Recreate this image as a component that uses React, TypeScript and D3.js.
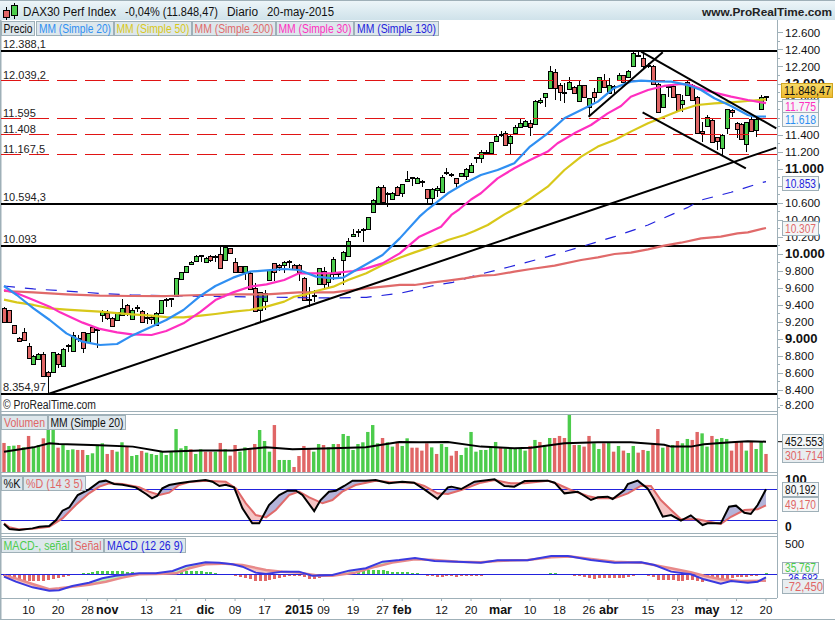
import React from 'react';
import * as d3 from 'd3';

const W = 835;
const H = 620;
const FONT = '"Liberation Sans", Arial, sans-serif';

// daily candles
const highs = [
  9382, 9339, 9163, 9029, 9135, 8951, 8813, 8833, 8853, 8625, 8845, 8833, 8892, 8939, 9088, 9045, 9080, 9068, 9139, 9127,
  9343, 9343, 9264, 9323, 9468, 9410, 9362, 9402, 9343, 9304, 9284, 9315, 9456, 9480, 9488, 9723, 9793, 9864, 9919, 9989,
  9989, 9970, 9989, 9989, 10087, 10087, 10075, 9950, 9864, 9864, 9785, 9664, 9550, 9578, 9821, 9899, 9880, 9919, 9931, 9880,
  9880, 9735, 9617, 9578, 9840, 9852, 9782, 9970, 9794, 10036, 10185, 10295, 10295, 10303, 10440, 10644, 10801, 10813, 10734, 10731,
  10801, 10829, 10978, 10911, 10907, 10872, 10770, 10781, 10800, 10930, 11009, 10958, 10899, 10958, 11009, 11075, 11146, 11224, 11224, 11322,
  11401, 11448, 11452, 11397, 11518, 11597, 11577, 11577, 11808, 11832, 11898, 12212, 12173, 12008, 12008, 12079, 11977, 12047, 11993, 11840,
  11949, 12087, 12118, 12067, 11989, 12134, 12110, 12165, 12377, 12380, 12361, 12243, 12224, 12008, 11887, 11989, 11985, 11887, 11871, 12047,
  11996, 11859, 11558, 11636, 11585, 11381, 11409, 11710, 11703, 11554, 11538, 11557, 11616, 11597, 11871, 11863,
];
const lows = [
  9194, 9186, 9076, 8970, 8982, 8782, 8692, 8755, 8563, 8355, 8617, 8657, 8680, 8853, 8853, 8970, 8833, 8962, 9068, 8892,
  9206, 9225, 9147, 9213, 9276, 9272, 9225, 9323, 9198, 9174, 9174, 9158, 9304, 9382, 9382, 9499, 9699, 9777, 9880, 9911,
  9911, 9903, 9903, 9911, 9832, 9919, 9997, 9781, 9781, 9695, 9582, 9327, 9206, 9343, 9691, 9684, 9801, 9774, 9833, 9813,
  9684, 9452, 9382, 9441, 9636, 9597, 9605, 9695, 9735, 9636, 9970, 10205, 10205, 10146, 10283, 10490, 10597, 10605, 10550, 10644,
  10684, 10668, 10852, 10801, 10825, 10793, 10597, 10597, 10676, 10723, 10930, 10911, 10762, 10911, 10872, 10958, 11075, 11068, 11185, 11185,
  11322, 11373, 11271, 11177, 11412, 11491, 11491, 11389, 11518, 11765, 11734, 11942, 11812, 11800, 11773, 11930, 11883, 11797, 11844, 11616,
  11793, 11902, 11953, 11883, 11891, 12040, 12020, 12079, 12204, 12314, 12192, 12184, 11989, 11663, 11714, 11851, 11844, 11687, 11675, 11863,
  11804, 11412, 11322, 11499, 11315, 11224, 11166, 11409, 11616, 11361, 11342, 11205, 11444, 11373, 11695, 11800,
];
const opens = [
  9362, 9339, 9163, 9017, 9084, 8915, 8704, 8763, 8829, 8617, 8617, 8821, 8688, 8923, 8864, 9004, 9080, 8970, 9139, 9103,
  9284, 9304, 9245, 9225, 9284, 9402, 9233, 9362, 9331, 9260, 9264, 9166, 9311, 9456, 9468, 9507, 9707, 9785, 9887, 9919,
  9974, 9911, 9974, 9962, 9997, 9927, 10068, 9903, 9856, 9785, 9778, 9597, 9343, 9448, 9699, 9891, 9868, 9872, 9911, 9872,
  9872, 9723, 9476, 9503, 9644, 9801, 9676, 9762, 9766, 9927, 9981, 10217, 10275, 10279, 10291, 10499, 10605, 10785, 10723, 10652,
  10793, 10715, 10860, 10891, 10832, 10860, 10762, 10656, 10758, 10735, 10950, 10946, 10891, 10923, 10923, 10970, 11130, 11126, 11189, 11193,
  11330, 11401, 11420, 11311, 11420, 11499, 11507, 11546, 11526, 11793, 11844, 11949, 12145, 11992, 11906, 11938, 11969, 11804, 11985, 11734,
  11910, 11910, 12047, 11891, 11981, 12047, 12102, 12087, 12212, 12325, 12302, 12224, 12216, 12000, 11726, 11977, 11977, 11879, 11765, 11871,
  11989, 11851, 11444, 11506, 11577, 11373, 11252, 11479, 11691, 11546, 11530, 11295, 11585, 11460, 11702, 11856,
];
const closes = [
  9198, 9198, 9076, 8978, 8994, 8782, 8806, 8821, 8571, 8571, 8845, 8712, 8880, 8931, 9049, 9017, 8900, 9068, 9080, 9115,
  9323, 9245, 9158, 9315, 9370, 9304, 9343, 9378, 9206, 9245, 9237, 9304, 9456, 9472, 9480, 9723, 9785, 9856, 9911, 9977,
  9985, 9958, 9931, 9977, 9840, 10083, 10009, 9785, 9793, 9856, 9590, 9331, 9550, 9539, 9813, 9785, 9852, 9911, 9923, 9821,
  9793, 9460, 9460, 9519, 9832, 9644, 9774, 9938, 9778, 10028, 10158, 10232, 10263, 10291, 10432, 10640, 10793, 10617, 10707, 10723,
  10691, 10821, 10880, 10903, 10899, 10848, 10656, 10770, 10774, 10911, 10966, 10926, 10840, 10950, 10997, 11048, 11142, 11197, 11205, 11314,
  11393, 11416, 11279, 11389, 11491, 11538, 11569, 11491, 11800, 11808, 11891, 12157, 11957, 11910, 11891, 12028, 11891, 11989, 11851, 11832,
  11851, 12079, 11961, 11989, 11965, 12110, 12028, 12157, 12361, 12345, 12216, 12212, 11996, 11675, 11879, 11961, 11851, 11695, 11812, 12020,
  11812, 11420, 11428, 11608, 11322, 11334, 11401, 11702, 11675, 11467, 11350, 11549, 11452, 11585, 11851, 11848.47,
];

// moving averages, read at the bar positions given by the *Idx arrays
const sma20Idx = [0, 2.6, 6, 9.3, 12.7, 16, 19.5, 23, 26, 30, 33, 36.5, 40, 43, 46.6, 50, 53.4, 57, 60, 63.5, 67, 69, 71, 73.7, 77, 80.5, 84.5, 86.2, 88.2, 90.3, 93.7, 97, 100.4, 103.8, 107, 110.6, 114, 117.4, 120.8, 124, 127.5, 129.6, 132.3, 135.7, 139, 141.8, 144.5, 147.9, 151.3, 152.6, 155];
const sma20 = [9625, 9519, 9362, 9225, 9068, 8970, 8931, 8943, 9041, 9147, 9225, 9343, 9511, 9625, 9723, 9793, 9809, 9825, 9813, 9735, 9715, 9723, 9793, 9880, 9989, 10185, 10440, 10527, 10617, 10715, 10832, 10930, 10989, 11068, 11264, 11420, 11597, 11695, 11793, 11949, 12028, 12040, 12032, 12028, 11989, 11930, 11832, 11742, 11636, 11616, 11618];
const sma30Idx = [0, 2.6, 6, 9.3, 11.4, 16, 19.5, 23, 26, 30, 33, 36.5, 40, 43, 46.6, 50, 53.4, 57, 60, 63.5, 67, 71, 73.7, 77, 80.5, 84.5, 88.9, 91, 92.6, 95, 97, 100.4, 103.8, 107, 110.6, 112.6, 116, 119.4, 122.8, 125.5, 127.5, 131, 134.3, 137.7, 139.7, 142.4, 144.5, 147.9, 151.3, 155];
const sma30 = [9578, 9539, 9460, 9382, 9315, 9194, 9120, 9080, 9056, 9049, 9096, 9186, 9323, 9460, 9550, 9617, 9644, 9695, 9774, 9774, 9777, 9801, 9832, 9891, 10009, 10205, 10322, 10460, 10527, 10642, 10715, 10891, 11009, 11107, 11205, 11303, 11420, 11518, 11655, 11742, 11851, 11930, 11977, 12000, 11989, 11930, 11899, 11851, 11812, 11775];
const sma50Idx = [0, 2.6, 6, 9.3, 12.7, 16, 19.5, 23, 26, 30, 33, 36.5, 40, 43, 46.6, 50, 53.4, 57, 59, 61.5, 63.5, 67, 70, 73.7, 77, 80.5, 83.5, 86.9, 90.3, 93.7, 95.7, 98.4, 101.8, 105.2, 107.2, 110.6, 114, 117.4, 120.8, 124.2, 127.5, 131, 134.3, 137.7, 141, 144.5, 147.9, 151.3, 155];
const sma50 = [9464, 9433, 9402, 9362, 9347, 9335, 9323, 9307, 9292, 9276, 9260, 9256, 9276, 9296, 9323, 9343, 9382, 9441, 9499, 9527, 9566, 9617, 9695, 9774, 9872, 9958, 10020, 10087, 10166, 10224, 10271, 10342, 10467, 10577, 10656, 10793, 10989, 11146, 11264, 11342, 11440, 11538, 11616, 11695, 11753, 11773, 11785, 11800, 11820];
const sma200Idx = [0, 6, 12.7, 19.5, 26, 33, 40, 46.6, 53.4, 60, 67, 73.7, 80.5, 83.5, 86.9, 90.3, 93.7, 97, 99.8, 103.8, 107.2, 112, 117.4, 120.8, 124.2, 127.5, 131, 134.3, 137.7, 141.8, 145.8, 149.2, 151.3, 155];
const sma200 = [9566, 9550, 9527, 9511, 9507, 9507, 9519, 9527, 9527, 9550, 9550, 9597, 9637, 9637, 9664, 9688, 9715, 9746, 9754, 9793, 9825, 9864, 9931, 9962, 10001, 10017, 10056, 10099, 10134, 10185, 10205, 10244, 10256, 10307];
const sma130Idx = [0, 6, 12.7, 19.5, 26, 33, 40, 46.6, 53.4, 60, 67, 73.7, 80.5, 83.5, 86.9, 91.3, 97, 102.5, 110.6, 116.7, 124.2, 131, 139, 141.8, 147.9, 153.6, 155];
const sma130 = [9625, 9590, 9566, 9538, 9519, 9511, 9503, 9499, 9495, 9488, 9484, 9492, 9539, 9578, 9625, 9668, 9766, 9845, 9970, 10075, 10205, 10342, 10546, 10636, 10727, 10832, 10853];

// horizontal levels
const solidLevels = [12388.1, 10594.3, 10093, 8354.97];
const solidLabels = ['12.388,1', '10.594,3', '10.093', '8.354,97'];
const dashedLevels = [12039.2, 11595, 11408, 11167.5];
const dashedLabels = ['12.039,2', '11.595', '11.408', '11.167,5'];

// hand drawn trend lines: [bar, price, bar, price]
const trendLines = [
  [9, 8355, 157.1, 11252],
  [129.6, 12380, 157.1, 11479],
  [129.9, 11667, 150.9, 11009],
  [118.9, 11616, 134, 12373],
];

const priceTicks = [12600, 12400, 12200, 12000, 11800, 11400, 11200, 11000, 10800, 10600, 10400, 10200, 10000, 9800, 9600, 9400, 9200, 9000, 8800, 8600, 8400, 8200];

// volume, in thousands
const volumes = [
  437, 400, 404, 412, 383, 523, 383, 412, 494, 608, 608, 379, 412, 351, 359, 351, 351, 289, 310, 404,
  433, 302, 351, 330, 445, 400, 277, 289, 339, 318, 302, 289, 330, 289, 330, 608, 371, 400, 359, 302,
  359, 330, 330, 330, 437, 359, 281, 412, 330, 383, 371, 424, 596, 461, 330, 657, 228, 228, 228, 142,
  277, 400, 371, 330, 424, 412, 383, 424, 424, 547, 523, 351, 424, 445, 572, 657, 433, 498, 445, 392,
  453, 400, 494, 379, 379, 343, 433, 383, 302, 424, 388, 281, 339, 289, 379, 572, 330, 351, 351, 392,
  449, 383, 371, 371, 371, 371, 343, 400, 474, 449, 412, 498, 498, 523, 498, 780, 412, 412, 392, 523,
  433, 363, 433, 449, 330, 400, 343, 314, 400, 318, 351, 339, 433, 608, 379, 400, 412, 461, 433, 486,
  474, 572, 555, 392, 523, 486, 498, 486, 343, 449, 461, 343, 461, 363, 449, 302,
];
const volumeDir = 'RGGRGRGGRG' + 'GRGGGRRGGG' + 'GRRGGRGGRG' + 'GGGGGGGGRG' + 'GRRGRGRRGG' + 'RRGGGRGGGR' + 'RRRGGRGGRG' + 'GGGGGGGRGG' + 'RGGR' +
  'RRRGRGGRRG' + 'GGGGGGGRGG' + 'GGGRGRGGRR' + 'RGRGRRGGRG' + 'RGRGGRRGRR' + 'GRGRGGRRGG' + 'RGGGRRRGRG' + 'GR';
const volMaIdx = [0, 6, 9.2, 11.2, 19.4, 26.2, 32.3, 40, 46.5, 53.3, 58.7, 66.8, 73.6, 80.4, 84.5, 90.3, 97, 103.8, 107.2, 114, 120.8, 127.5, 134.3, 135.7, 139.7, 142.4, 147.9, 151.3, 155];
const volMa = [330, 383, 433, 424, 408, 392, 330, 343, 343, 383, 359, 371, 383, 449, 445, 449, 392, 371, 379, 433, 445, 445, 416, 392, 392, 420, 445, 457, 452.553];

// stochastic
const stochKIdx = [0, 1.1, 3.1, 5.8, 7.2, 9.2, 10.6, 11.9, 13.3, 15, 17.3, 19.4, 20.7, 22.4, 24.1, 26.8, 28.9, 30.1, 31.2, 32.2, 33.6, 35.6, 37.7, 41, 42.4, 43.8, 45.1, 46.8, 48.5, 50.5, 51.9, 53.9, 56, 57.7, 59.4, 60.7, 63.1, 64.4, 66.1, 67.5, 69.2, 70.9, 73.6, 75.6, 78.3, 81, 83.4, 85.5, 88.2, 90.3, 91, 93, 95.7, 99.8, 101.8, 103.8, 105.9, 110.6, 112, 114, 116.7, 119.4, 120.8, 122.8, 123.8, 126.2, 126.9, 128.9, 130.9, 132.3, 134, 135.7, 137.7, 139.7, 142.1, 143.1, 145.8, 147.5, 148.9, 150.6, 151.9, 153.3, 155];
const stochK = [12.9, 3.2, 1.3, 4.5, 7.8, 9, 20.7, 38.7, 45.2, 69, 80, 94.8, 96.8, 90.3, 89, 83.9, 71, 62.6, 67.7, 81.9, 88.4, 91.6, 94.8, 98, 94.8, 86.5, 89, 83.9, 43.2, 14.2, 14.2, 49.7, 69, 77.4, 77.4, 69, 38, 59.4, 75.5, 77.4, 86.5, 96.8, 96.8, 98, 91.6, 94.8, 92.9, 80, 61.3, 83.9, 85.2, 80.6, 94.8, 99.4, 86.5, 85.2, 96.1, 96.8, 92.9, 72.3, 75.5, 59.4, 64.5, 65.8, 61.3, 78.7, 90.3, 96.8, 81.9, 59.4, 27, 30.3, 19.4, 29.7, 11, 14.2, 14.2, 46.5, 48.4, 34.8, 32.3, 49.7, 80.192];
const stochDIdx = [0, 1.1, 3.1, 5.8, 9.2, 11.9, 14.6, 17.3, 19.4, 21.4, 24.1, 27.5, 29.5, 31.6, 33.6, 35.6, 37.7, 41, 45.1, 47.2, 49.2, 51.2, 53.3, 55.3, 58, 60, 62.1, 64.8, 66.8, 68.8, 71.5, 75.6, 78.3, 83.4, 85.5, 88.2, 90.3, 93, 97, 99.8, 103.1, 105.9, 110.6, 112.6, 115.3, 118.7, 120.8, 124.2, 126.9, 129.6, 131.6, 133.6, 135.7, 137.7, 141.1, 144.5, 145.8, 147.9, 150.6, 153.3, 155];
const stochD = [14.2, 6.5, 2.6, 3.9, 7.8, 23.9, 49.7, 72.3, 85.2, 91.6, 90.3, 83.9, 75.5, 69, 73.5, 88.4, 94.2, 96.8, 94.8, 81.9, 53, 30.3, 25.8, 40, 69, 75.5, 64.5, 53, 59.4, 75.5, 88.4, 96.8, 94.2, 92.9, 86.5, 72.3, 71, 78.7, 92.9, 98, 91.6, 91.6, 96.8, 90.3, 78.7, 67, 62.6, 62.6, 72.3, 87.1, 86.5, 59.4, 40, 22, 22, 15.5, 12.9, 27, 40, 41.3, 49.17];
const stochLevels = [80, 20];

// MACD
const macdIdx = [0, 2.4, 5.8, 9.2, 11.2, 13.9, 17.3, 20, 22.7, 27.5, 30.9, 34.3, 37, 41, 43.8, 46.5, 48.5, 51.2, 53.3, 56.6, 60, 62.7, 66.8, 70.2, 73.6, 77, 80.4, 83.6, 87.6, 92.3, 97, 100.4, 106.5, 111.3, 114.7, 119.4, 124.2, 129.6, 132.3, 135.7, 139.7, 142.4, 145.8, 147.9, 151.3, 153.3, 155];
const macdLine = [-27, -108, -199, -253, -247, -178, -124, -54, -11, 27, 27, 65, 145, 204, 199, 172, 134, 38, 16, 54, 54, -11, 0, 70, 108, 215, 242, 274, 226, 215, 199, 237, 237, 306, 306, 242, 199, 204, 161, 54, 11, -70, -140, -97, -124, -108, -37];
const signalIdx = [0, 2.4, 5.8, 9.2, 11.2, 13.9, 17.3, 20.7, 24.1, 27.5, 30.9, 35, 37.7, 41, 44.4, 48.5, 53.3, 56.6, 60, 64.1, 66.8, 71.5, 75.6, 79, 83.6, 87.6, 92.3, 97, 100.4, 106.5, 111.3, 115.3, 119.4, 124.2, 129.6, 133, 135.7, 139.7, 142.4, 145.8, 149.9, 155];
const signalLine = [-11, -54, -145, -231, -215, -188, -156, -108, -43, 11, 16, 27, 108, 172, 183, 161, 81, 54, 38, -11, -11, 38, 134, 199, 253, 242, 215, 204, 226, 242, 285, 296, 258, 215, 199, 150, 108, 43, -11, -70, -97, -91];
const macdHist = [
  -11, -22, -49, -81, -92, -92, -97, -103, -97, -86, -65, -43, -27, -11, 16, 16, 27, 32, 54, 59,
  65, 65, 59, 59, 59, 49, 43, 38, 32, 27, 27, 22, 22, 27, 32, 54, 65, 65, 65, 65,
  59, 49, 49, 32, 22, 22, 5, -16, -27, -43, -65, -97, -97, -97, -81, -59, -43, -27, -22, -16,
  -22, -38, -65, -65, -49, -38, -22, -11, 5, 16, 27, 38, 54, 65, 81, 81, 81, 76, 70, 54,
  49, 49, 49, 32, 27, 22, -11, -22, -38, -27, -22, -16, -27, -22, -22, -16, -16, -11, -5, -5,
  16, 16, -5, -5, -5, -5, 0, 0, 16, 16, 22, 32, 27, 16, -5, -5, -16, -22, -38, -43,
  -59, -43, -43, -43, -43, -43, -43, -38, -22, -5, 0, -16, -32, -81, -81, -81, -81, -97, -97, -81,
  -81, -92, -113, -92, -108, -113, -124, -103, -54, -38, -32, -27, -22, -16, 16, 32,
];
const macdLevels = [0];

// bottom axis
const dateTickIdx = [5, 11, 17, 21, 29, 35, 41, 47, 53, 60, 65, 71, 77, 81, 89, 95, 101, 107, 113, 119, 123, 131, 137, 143, 149, 155];
const dateTickLabels = ['10', '20', '28', 'nov', '13', '21', 'dic', '09', '17', '2015', '09', '19', '27', 'feb', '12', '20', 'mar', '10', '18', '26', 'abr', '15', '23', 'may', '12', '20'];
const boldDates = ['nov', 'dic', '2015', 'feb', 'mar', 'abr', 'may'];

const GREEN = '#4ccc4c';
const RED = '#e06666';
const BORDER = '#9fb0b8';
const PLOT_R = 777;

const x = d3.scaleLinear().domain([0, 155]).range([4, 766]);
const y = d3.scaleLinear().domain([8354.97, 12388.1]).range([394, 51]);
const yVol = d3.scaleLinear().domain([76.77, 792.5]).range([472.3, 414]);
const yStoch = d3.scaleLinear().domain([0, 100]).range([530.7, 479]);
const yMacd = d3.scaleLinear().domain([-371, 617]).range([598, 536.7]);

const fmtPrice = (v: number) => d3.format(',')(v).replace(/,/g, '.');

const pathOf = (idx: number[], vals: number[], scale: any) =>
  d3.line<number>().x((_, i) => x(idx[i])).y((v) => scale(v))(vals) || '';

const areaOf = (idx: number[], vals: number[], scale: any, base: number) =>
  d3.area<number>().x((_, i) => x(idx[i])).y0(base).y1((v) => scale(v))(vals) || '';

// the original font is narrower than anything installed, so widths are fitted
function Fit({ x: tx, y: ty, w, size = 12, color = '#111', bold = false, children }: any) {
  return (
    <text x={tx} y={ty} fontSize={size} fill={color} fontWeight={bold ? 'bold' : 'normal'} textLength={w} lengthAdjust="spacingAndGlyphs">
      {children}
    </text>
  );
}

function Chip({ x: cx, y: cy, w, tw, h = 14, text, color }: any) {
  return (
    <g>
      <rect x={cx + 0.5} y={cy + 0.5} width={w} height={h} fill="#dde7ec" stroke={BORDER} />
      <Fit x={cx + (w - tw) / 2 + 0.5} y={cy + 11.5} w={tw} color={color}>{text}</Fit>
    </g>
  );
}

function ValueBox({ x0 = 783, top, w = 36, tw = 31, h = 14, text, color, fill = '#f4f6f7' }: any) {
  return (
    <g>
      <rect x={x0 - 0.5} y={top + 0.5} width={w} height={h} fill={fill} stroke={BORDER} />
      <Fit x={x0 + 2} y={top + h / 2 + 4.5} w={tw} color={color}>{text}</Fit>
    </g>
  );
}

function Difference({ id, kIdx, k, dIdx, d, scale, top, bottom, colors }: any) {
  return (
    <g>
      <defs>
        <clipPath id={id + 'AboveD'}><path d={areaOf(dIdx, d, scale, top)} /></clipPath>
        <clipPath id={id + 'BelowD'}><path d={areaOf(dIdx, d, scale, bottom)} /></clipPath>
      </defs>
      <path d={areaOf(kIdx, k, scale, bottom)} fill={colors[0]} clipPath={`url(#${id}AboveD)`} />
      <path d={areaOf(kIdx, k, scale, top)} fill={colors[1]} clipPath={`url(#${id}BelowD)`} />
    </g>
  );
}

export default function App() {
  return (
    <svg width={W} height={H} viewBox={`0 0 ${W} ${H}`} style={{ position: 'absolute', left: 0, top: 0, background: '#fff' }} fontFamily={FONT}>
      <defs>
        <linearGradient id="hdr" x1="0" y1="0" x2="0" y2="1">
          <stop offset="0" stopColor="#eef6f9" />
          <stop offset="1" stopColor="#cfe2ea" />
        </linearGradient>
        <linearGradient id="gold" x1="0" y1="0" x2="0" y2="1">
          <stop offset="0" stopColor="#f7dc6a" />
          <stop offset="1" stopColor="#edb92e" />
        </linearGradient>
        <clipPath id="mainClip"><rect x={1} y={36} width={PLOT_R - 1} height={375} /></clipPath>
        <clipPath id="volClip"><rect x={1} y={415} width={PLOT_R - 1} height={57} /></clipPath>
        <clipPath id="stochClip"><rect x={1} y={476} width={PLOT_R - 1} height={57} /></clipPath>
        <clipPath id="macdClip"><rect x={1} y={537} width={PLOT_R - 1} height={61} /></clipPath>
      </defs>

      {/* header */}
      <rect x={0} y={0} width={W} height={20} fill="url(#hdr)" />
      <line x1={0} x2={W} y1={0.5} y2={0.5} stroke={BORDER} />
      <g stroke="#000">
        <line x1={6.5} x2={6.5} y1={7} y2={20} />
        <rect x={3.5} y={10.5} width={6} height={7} fill={RED} />
        <line x1={14.5} x2={14.5} y1={3} y2={19} />
        <rect x={11.5} y={5.5} width={6} height={10} fill={GREEN} />
      </g>
      <Fit x={23} y={16} w={93} size={12.5}>DAX30 Perf Index</Fit>
      <Fit x={125} y={16} w={93} size={12.5}>-0,04% (11.848,47)</Fit>
      <Fit x={227} y={16} w={31} size={12.5}>Diario</Fit>
      <Fit x={267} y={16} w={67} size={12.5}>20-may-2015</Fit>
      <Fit x={702} y={16} w={130} size={11.5} bold color="#222">www.ProRealTime.com</Fit>

      {/* frame */}
      <rect x={0} y={20} width={1.5} height={600} fill={BORDER} />
      <line x1={PLOT_R + 0.5} x2={PLOT_R + 0.5} y1={20} y2={598} stroke={BORDER} />
      <line x1={0} x2={PLOT_R} y1={411.5} y2={411.5} stroke={BORDER} />
      <line x1={0} x2={PLOT_R} y1={414.5} y2={414.5} stroke={BORDER} />
      <line x1={0} x2={PLOT_R} y1={472.5} y2={472.5} stroke={BORDER} />
      <line x1={0} x2={PLOT_R} y1={475.5} y2={475.5} stroke={BORDER} />
      <line x1={0} x2={PLOT_R} y1={533.5} y2={533.5} stroke={BORDER} />
      <line x1={0} x2={PLOT_R} y1={536.5} y2={536.5} stroke={BORDER} />
      <line x1={0} x2={PLOT_R} y1={598.5} y2={598.5} stroke={BORDER} />
      <line x1={0} x2={W} y1={619.5} y2={619.5} stroke={BORDER} />

      {/* candles */}
      <g clipPath="url(#mainClip)" shapeRendering="crispEdges">
        {closes.map((c, i) => {
          const cx = Math.round(x(i)) + 0.5;
          const top = Math.round(y(Math.max(opens[i], c))) + 0.5;
          const bottom = Math.round(y(Math.min(opens[i], c))) + 0.5;
          return (
            <g key={i}>
              <line x1={cx} x2={cx} y1={y(highs[i])} y2={y(lows[i])} stroke="#000" />
              <rect x={cx - 2} y={top} width={4} height={Math.max(bottom - top, 1)} fill={c >= opens[i] ? GREEN : RED} stroke="#000" />
            </g>
          );
        })}
      </g>

      {/* levels */}
      {solidLevels.map((v, i) => (
        <g key={v}>
          <line x1={1} x2={PLOT_R} y1={y(v)} y2={y(v)} stroke="#000" strokeWidth={2} shapeRendering="crispEdges" />
          <text x={3} y={y(v) - 3} fontSize={11} fill="#222">{solidLabels[i]}</text>
        </g>
      ))}
      {dashedLevels.map((v, i) => (
        <g key={v}>
          <line x1={1} x2={PLOT_R} y1={y(v)} y2={y(v)} stroke="#e01414" strokeDasharray="20 8" shapeRendering="crispEdges" />
          <text x={3} y={y(v) - 1.5} fontSize={11} fill="#222">{dashedLabels[i]}</text>
        </g>
      ))}

      {/* moving averages and trend lines */}
      <g clipPath="url(#mainClip)" fill="none" strokeLinejoin="round">
        <path d={pathOf(sma130Idx, sma130, y)} stroke="#2222dd" strokeWidth={1.2} strokeDasharray="11 10" />
        <path d={pathOf(sma200Idx, sma200, y)} stroke="#e06a6a" strokeWidth={2.2} />
        <path d={pathOf(sma50Idx, sma50, y)} stroke="#d8c81a" strokeWidth={2.2} />
        <path d={pathOf(sma30Idx, sma30, y)} stroke="#ff2fc0" strokeWidth={2.2} />
        <path d={pathOf(sma20Idx, sma20, y)} stroke="#2f8ff2" strokeWidth={2.2} />
        {trendLines.map((t, i) => (
          <line key={i} x1={x(t[0])} y1={y(t[1])} x2={x(t[2])} y2={y(t[3])} stroke="#000" strokeWidth={2} />
        ))}
      </g>

      {/* legend, top */}
      <Chip x={1} y={21} w={33} tw={29} text="Precio" color="#111" />
      <Chip x={36} y={21} w={77} tw={72} text="MM (Simple 20)" color="#2f8ff2" />
      <Chip x={114} y={21} w={77} tw={73} text="MM (Simple 50)" color="#d8c81a" />
      <Chip x={192} y={21} w={83} tw={79} text="MM (Simple 200)" color="#e06a6a" />
      <Chip x={276} y={21} w={77} tw={73} text="MM (Simple 30)" color="#ff2fc0" />
      <Chip x={354} y={21} w={84} tw={79} text="MM (Simple 130)" color="#2222dd" />
      <Fit x={3} y={409} w={93} color="#222">© ProRealTime.com</Fit>

      {/* price axis */}
      {d3.range(8200, 12700, 100).map((v) => (
        <line key={v} x1={PLOT_R + 1} x2={PLOT_R + 3} y1={y(v)} y2={y(v)} stroke={BORDER} shapeRendering="crispEdges" />
      ))}
      {priceTicks.map((v) => {
        const major = v % 1000 === 0;
        const ty = v === 8200 ? 405 : y(v);
        return (
          <g key={v}>
            <line x1={PLOT_R + 3} x2={PLOT_R + 6} y1={ty} y2={ty} stroke={BORDER} shapeRendering="crispEdges" />
            <text x={785} y={ty + 4} fontSize={major ? 13 : 11.5} fontWeight={major ? 'bold' : 'normal'} fill="#111">{fmtPrice(v)}</text>
          </g>
        );
      })}
      <rect x={781.5} y={83.5} width={51} height={14} fill="url(#gold)" stroke="#d2a520" />
      <Fit x={784} y={94.5} w={47}>11.848,47</Fit>
      <ValueBox top={99} text="11.775" color="#ff2fc0" />
      <ValueBox top={112} text="11.618" color="#2f8ff2" />
      <ValueBox top={176} text="10.853" color="#2222dd" />
      <ValueBox top={221} text="10.307" color="#e06a6a" />

      {/* volume */}
      <g clipPath="url(#volClip)">
        {volumes.map((v, i) => (
          <rect key={i} x={x(i) - 1.7} y={yVol(v)} width={3.4} height={472.3 - yVol(v)} fill={volumeDir[i] === 'G' ? GREEN : RED} />
        ))}
        <path d={pathOf(volMaIdx, volMa, yVol)} fill="none" stroke="#000" strokeWidth={2} />
      </g>
      <Chip x={1} y={415} w={46} tw={41} text="Volumen" color={RED} />
      <Chip x={48} y={415} w={77} tw={73} text="MM (Simple 20)" color="#111" />
      <line x1={PLOT_R + 1} x2={PLOT_R + 6} y1={yVol(452.553)} y2={yVol(452.553)} stroke="#000" />
      <ValueBox top={434} w={41} tw={38} text="452.553" color="#111" />
      <ValueBox top={448} w={41} tw={38} text="301.714" color={RED} fill="#e8edf0" />

      {/* stochastic */}
      <g clipPath="url(#stochClip)">
        <Difference id="st" kIdx={stochKIdx} k={stochK} dIdx={stochDIdx} d={stochD} scale={yStoch} top={470} bottom={540} colors={['#b3b3d9', '#f4c4c4']} />
        {stochLevels.map((v) => (
          <line key={v} x1={1} x2={PLOT_R} y1={yStoch(v)} y2={yStoch(v)} stroke="#2222dd" strokeWidth={1} shapeRendering="crispEdges" />
        ))}
        <path d={pathOf(stochDIdx, stochD, yStoch)} fill="none" stroke="#e06a6a" strokeWidth={2} />
        <path d={pathOf(stochKIdx, stochK, yStoch)} fill="none" stroke="#000" strokeWidth={2} />
      </g>
      <Chip x={1} y={476} w={21} tw={17} text="%K" color="#111" />
      <Chip x={23} y={476} w={62} tw={57} text="%D (14 3 5)" color={RED} />
      <text x={785} y={484} fontSize={13} fontWeight="bold" fill="#111">100</text>
      <text x={785} y={531} fontSize={12} fontWeight="bold" fill="#111">0</text>
      <ValueBox top={482} text="80,192" color="#111" />
      <ValueBox top={497} text="49,170" color={RED} />

      {/* MACD */}
      <g clipPath="url(#macdClip)">
        {macdHist.map((v, i) => (
          <rect key={i} x={Math.round(x(i)) - 1} y={Math.min(yMacd(v), yMacd(0))} width={3} height={Math.abs(yMacd(v) - yMacd(0))} fill={v >= 0 ? GREEN : RED} shapeRendering="crispEdges" />
        ))}
        <Difference id="md" kIdx={macdIdx} k={macdLine} dIdx={signalIdx} d={signalLine} scale={yMacd} top={530} bottom={605} colors={['#bdf0bd', '#f4c4c4']} />
        {macdLevels.map((v) => (
          <line key={v} x1={1} x2={PLOT_R} y1={yMacd(v)} y2={yMacd(v)} stroke="#2222dd" shapeRendering="crispEdges" />
        ))}
        <path d={pathOf(signalIdx, signalLine, yMacd)} fill="none" stroke="#e88a8a" strokeWidth={2.5} />
        <path d={pathOf(macdIdx, macdLine, yMacd)} fill="none" stroke="#3a3ae0" strokeWidth={2} />
      </g>
      <Chip x={1} y={538} w={70} tw={66} text="MACD-, señal" color="#4ccc4c" />
      <Chip x={72} y={538} w={31} tw={27} text="Señal" color={RED} />
      <Chip x={104} y={538} w={81} tw={76} text="MACD (12 26 9)" color="#2222dd" />
      <text x={785} y={548} fontSize={11.5} fill="#111">500</text>
      <Fit x={785} y={583} w={33} color="#2222dd">-36,683</Fit>
      <ValueBox top={562} text="35,767" color="#4ccc4c" h={11} />
      <ValueBox top={579} w={41} tw={38} text="-72,450" color={RED} fill="#e8edf0" />

      {/* date axis */}
      {dateTickIdx.map((t, i) => {
        const bold = boldDates.includes(dateTickLabels[i]);
        return (
          <g key={i}>
            <line x1={x(t)} x2={x(t)} y1={598} y2={601} stroke={BORDER} />
            <text x={x(t)} y={614} textAnchor="middle" fontSize={bold ? 12.5 : 11.5} fontWeight={bold ? 'bold' : 'normal'} fill="#111">{dateTickLabels[i]}</text>
          </g>
        );
      })}
    </svg>
  );
}
